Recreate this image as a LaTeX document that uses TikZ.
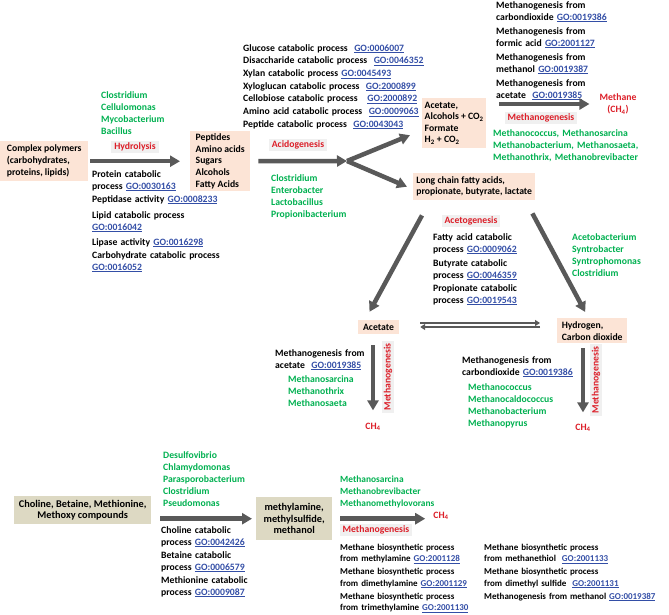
\documentclass[tikz,border=0pt]{standalone}
\usepackage{fontspec}
\setmainfont{Carlito}
\usepackage{tikz}
\usetikzlibrary{arrows.meta}

\definecolor{peach}{RGB}{252,228,214}
\definecolor{tanbox}{RGB}{221,217,195}
\definecolor{lblgray}{RGB}{240,240,240}
\definecolor{mygreen}{RGB}{0,176,80}
\definecolor{myred}{RGB}{220,30,40}
\definecolor{golink}{RGB}{51,78,166}
\definecolor{arrowgray}{RGB}{89,89,89}
\newcommand{\go}[1]{\textcolor{golink}{\underline{GO:#1}}}

\begin{document}
\begin{tikzpicture}[
                x=1pt, y=-1pt,                % 像素坐标
                every node/.style={
                    font=\bfseries\fontsize{9.7}{12}\selectfont,
                    inner sep=0pt
                },
                txt/.style={anchor=base west, align=left, text width=250pt},
                grn/.style={txt, text=mygreen},
                pbox/.style={fill=peach, align=left, anchor=north west},
                tbox/.style={fill=tanbox, align=center, anchor=north west,
                    font=\bfseries\fontsize{10.3}{11.5}\selectfont},
                lbl/.style={fill=lblgray, text=myred, inner xsep=3pt, inner ysep=2pt},
                red/.style={text=myred, align=center},
                small/.style={font=\bfseries\fontsize{9}{11.5}\selectfont},
                arrow/.style={draw=arrowgray, line width=4.5pt, -{Triangle[length=10pt,width=11pt]}},
                eq/.style={draw=arrowgray, line width=1.6pt, -{Triangle[length=5pt,width=6pt]}}
            ]
                \useasboundingbox (0,0) rectangle (669,614);

                % 方框
                \node[pbox, minimum width=88pt, minimum height=40pt] (poly) at (0,141)
                    {Complex polymers\\(carbohydrates,\\proteins, lipids)};
                \node[pbox, minimum width=60pt, minimum height=60pt, font=\bfseries\fontsize{9.7}{11.8}\selectfont] (pep) at (190,131)
                    {Peptides\\Amino acids\\Sugars\\Alcohols\\Fatty Acids};
                \node[pbox, minimum width=64pt, minimum height=50pt, font=\bfseries\fontsize{9.7}{11.5}\selectfont] (acet1) at (422,98)
                    {Acetate,\\Alcohols + CO\textsubscript{2}\\Formate\\H\textsubscript{2} + CO\textsubscript{2}};
                \node[pbox, minimum width=122pt, minimum height=27pt, font=\bfseries\fontsize{9.7}{11}\selectfont] (lcfa) at (413,173)
                    {Long chain fatty acids,\\propionate, butyrate, lactate};
                \node[fill=peach, minimum width=41pt, minimum height=14pt] (acet2) at (378.5,327) {Acetate};
                \node[pbox, minimum width=70pt, minimum height=25pt] (h2) at (557,318)
                    {Hydrogen,\\Carbon dioxide};
                \node[tbox, minimum width=137pt, minimum height=28pt] (chol) at (14,496)
                    {Choline, Betaine, Methionine,\\Methoxy compounds};
                \node[tbox, minimum width=76pt, minimum height=43pt] (metam) at (256,497)
                    {methylamine,\\methylsulfide,\\methanol};

                % 产物
                \node[red] (meth1) at (618,104) {Methane\\(CH\textsubscript{4})};
                \node[red] (ch4a) at (373,427) {CH\textsubscript{4}};
                \node[red] (ch4b) at (583,428) {CH\textsubscript{4}};
                \node[red] (ch4c) at (441,516) {CH\textsubscript{4}};

                % 过程标签
                \node[lbl] (hydro) at (135,147) {Hydrolysis};
                \node[lbl] (acido) at (298,145) {Acidogenesis};
                \node[lbl] (metha1) at (541,118) {Methanogenesis};
                \node[lbl] (aceto) at (471,221) {Acetogenesis};
                \node[lbl, rotate=90] (metha2) at (388,377) {Methanogenesis};
                \node[lbl, rotate=90] (metha3) at (596,380) {Methanogenesis};
                \node[lbl] (metha4) at (376,530) {Methanogenesis};

                % 菌
                \node[grn] (bac1) at (101,98) {Clostridium\\Cellulomonas\\Mycobacterium\\Bacillus};
                \node[grn] (bac2) at (271,181) {Clostridium\\Enterobacter\\Lactobacillus\\Propionibacterium};
                \node[grn] (bac3) at (493,136) {Methanococcus, Methanosarcina\\Methanobacterium, Methanosaeta,\\Methanothrix, Methanobrevibacter};
                \node[grn] (bac4) at (572,240) {Acetobacterium\\Syntrobacter\\Syntrophomonas\\Clostridium};
                \node[grn] (bac5) at (288,382) {Methanosarcina\\Methanothrix\\Methanosaeta};
                \node[grn] (bac6) at (468,390) {Methanococcus\\Methanocaldococcus\\Methanobacterium\\Methanopyrus};
                \node[grn] (bac7) at (163,458) {Desulfovibrio\\Chlamydomonas\\Parasporobacterium\\Clostridium\\Pseudomonas};
                \node[grn, font=\bfseries\fontsize{9.4}{12}\selectfont] (bac8) at (340,482) {Methanosarcina\\Methanobrevibacter\\Methanomethylovorans};

                % GO 注释
                \node[txt] (go1) at (92,177) {Protein catabolic\\process \go{0030163}\\[1pt]
                    Peptidase activity \go{0008233}\\[4pt]
                    Lipid catabolic process\\\go{0016042}\\[3pt]
                    Lipase activity \go{0016298}\\[1pt]
                    Carbohydrate catabolic process\\\go{0016052}};
                \node[txt, font=\bfseries\fontsize{9.7}{12.7}\selectfont] (go2) at (243,51)
                    {Glucose catabolic process~~\go{0006007}\\
                    Disaccharide catabolic process~~\go{0046352}\\
                    Xylan catabolic process \go{0045493}\\
                    Xyloglucan catabolic process~~\go{2000899}\\
                    Cellobiose catabolic process~~~\go{2000892}\\
                    Amino acid catabolic process~~\go{0009063}\\
                    Peptide catabolic process~~\go{0043043}};
                \node[txt] (go3) at (496,8) {Methanogenesis from\\carbondioxide \go{0019386}\\[2pt]
                    Methanogenesis from\\formic acid \go{2001127}\\[2pt]
                    Methanogenesis from\\methanol \go{0019387}\\[2pt]
                    Methanogenesis from\\acetate~~\go{0019385}};
                \node[txt] (go4) at (433,240) {Fatty acid catabolic\\process \go{0009062}\\[2pt]
                    Butyrate catabolic\\process \go{0046359}\\[1pt]
                    Propionate catabolic\\process \go{0019543}};
                \node[txt] (go5) at (275,356) {Methanogenesis from\\acetate~~\go{0019385}};
                \node[txt] (go6) at (462,363) {Methanogenesis from\\carbondioxide \go{0019386}};
                \node[txt] (go7) at (161,533) {Choline catabolic\\process \go{0042426}\\[1pt]
                    Betaine catabolic\\process \go{0006579}\\[1pt]
                    Methionine catabolic\\process \go{0009087}};
                \node[txt, small] (go8) at (340,550)
                    {Methane biosynthetic process\\from methylamine \go{2001128}\\[1.5pt]
                    Methane biosynthetic process\\from dimethylamine \go{2001129}\\[1.5pt]
                    Methane biosynthetic process\\from trimethylamine \go{2001130}};
                \node[txt, small] (go9) at (484,550)
                    {Methane biosynthetic process\\from methanethiol~~\go{2001133}\\[1.5pt]
                    Methane biosynthetic process\\from dimethyl sulfide~~\go{2001131}\\[1.5pt]
                    Methanogenesis from methanol \go{0019387}};

                % 边
                \coordinate (fork) at (347,161);
                \draw[arrow] ([xshift=2pt]poly.east) -- ([xshift=-10pt]poly.east -| pep.west);
                \draw[arrow] ([xshift=8pt]pep.east) -- (fork);
                \draw[arrow] (fork) -- ([xshift=-12pt,yshift=-12pt]acet1.west);
                \draw[arrow] (fork) -- ([xshift=-6pt]lcfa.west);
                \draw[arrow] ([xshift=13pt]acet1.east |- meth1.west) -- ([xshift=-10pt]meth1.west);
                \draw[arrow] ([xshift=9pt,yshift=-15pt]lcfa.south west) -- ([xshift=-9pt,yshift=8pt]acet2.north);
                \draw[arrow] ([xshift=-3pt,yshift=-13pt]lcfa.south east) -- ([xshift=-7pt,yshift=6pt]h2.north);
                \draw[eq, shorten <=21pt, shorten >=17pt] ([yshift=4pt]acet2.east) -- ([yshift=4pt]acet2.east -| h2.west);
                \draw[eq, shorten <=17pt, shorten >=21pt] (acet2.east -| h2.west) -- (acet2.east);
                \draw[arrow] ([yshift=-11pt]ch4a.north |- acet2.south) -- ([yshift=12.5pt]ch4a.north);
                \draw[arrow] ([yshift=-5pt]ch4b.north |- h2.south) -- ([yshift=11.5pt]ch4b.north);
                \draw[arrow] ([xshift=9pt]chol.east |- metam.west) -- ([xshift=-4pt]metam.west);
                \draw[arrow] ([xshift=8pt]metam.east) -- ([xshift=-8pt]ch4c.west |- metam.east);
            \end{tikzpicture}
\end{document}
